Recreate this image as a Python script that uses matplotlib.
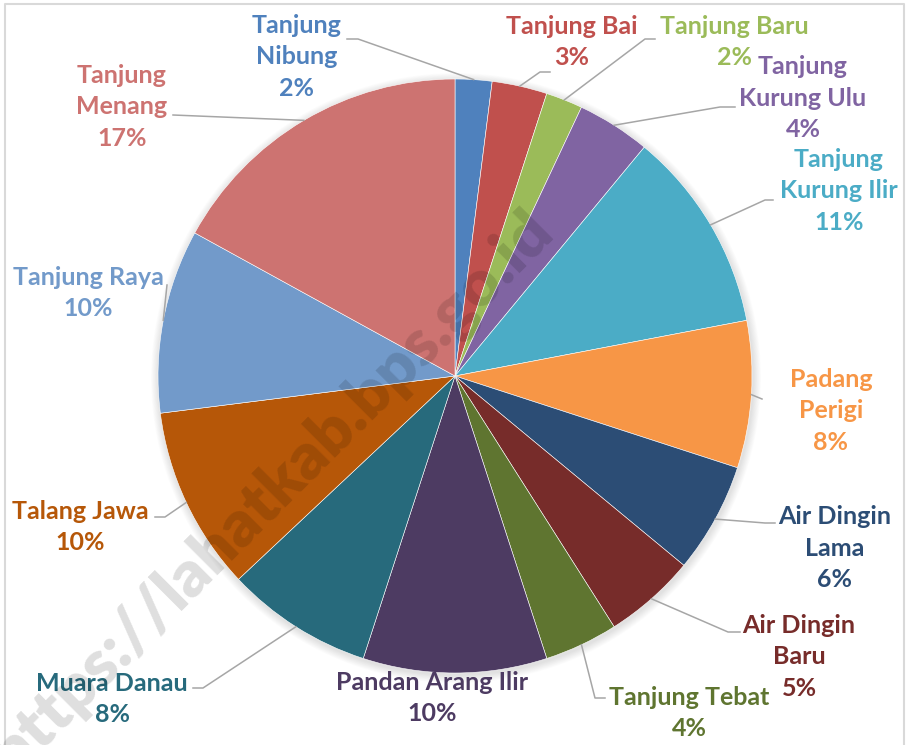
import numpy as np
import matplotlib
matplotlib.use("Agg")
import matplotlib.pyplot as plt
from matplotlib.patches import Circle

plt.rcParams['font.family'] = ['Lato', 'DejaVu Sans']

# data
names = ['Tanjung\nNibung', 'Tanjung Bai', 'Tanjung Baru', 'Tanjung\nKurung Ulu',
         'Tanjung\nKurung Ilir', 'Padang\nPerigi', 'Air Dingin\nLama', 'Air Dingin\nBaru',
         'Tanjung Tebat', 'Pandan Arang Ilir', 'Muara Danau', 'Talang Jawa',
         'Tanjung Raya', 'Tanjung\nMenang']
shares = [2, 3, 2, 4, 11, 8, 6, 5, 4, 10, 8, 10, 10, 17]
colors = ['#4F81BD', '#C0504D', '#9BBB59', '#8064A2', '#4BACC6', '#F79646', '#2C4D75',
          '#772C2A', '#5F7530', '#4D3B62', '#276A7C', '#B65708', '#729ACA', '#CD7371']

# layout (pixel coords, y down)
label_xy = [(297, 57), (572, 42), (734, 42), (803, 98), (839, 191), (831, 411), (835, 548),
            (799, 657), (689, 713), (432, 698), (112, 699), (80, 527), (88, 293), (122, 107)]
leaders = [[(358, 39), (347, 39)], [(540, 72), (550, 72)], [(645, 39), (655, 39)],
           [(720, 107), (735, 107)], [(765, 200), (773, 200)], [(762, 399)],
           [(765, 523), (775, 523)], [(728, 632), (740, 632)], [(595, 698), (605, 698)],
           [], [(203, 688), (193, 688)], [(165, 517), (155, 517)], [(167, 285)], [(173, 115)]]

W, H = 906, 745
cx, cy, r = 455, 376, 297

fig = plt.figure(figsize=(W / 100, H / 100), dpi=100)
ax = fig.add_axes([0, 0, 1, 1])

# soft shadow behind pie
for k in range(10, 0, -1):
    ax.add_patch(Circle((cx + 1, cy + 2), r + k * 0.8, color='black', alpha=0.012, lw=0, zorder=0))

# y axis inverted -> startangle -90 / counterclock draws clockwise from 12 o'clock
wedges, _ = ax.pie(shares, colors=colors, startangle=-90, counterclock=True,
                   center=(cx, cy), radius=r,
                   wedgeprops=dict(edgecolor='white', linewidth=0.4))

for w, pts in zip(wedges, leaders):
    if not pts:
        continue
    a = np.deg2rad((w.theta1 + w.theta2) / 2)
    start = (cx + r * np.cos(a), cy + r * np.sin(a))
    xs = [start[0]] + [p[0] for p in pts]
    ys = [start[1]] + [p[1] for p in pts]
    ax.plot(xs, ys, color='#A6A6A6', lw=1.1, zorder=3)

for name, v, c, (tx, ty) in zip(names, shares, colors, label_xy):
    ax.text(tx, ty, f"{name}\n{v}%", color=c, fontsize=18, fontweight='bold',
            ha='center', va='center', multialignment='center', linespacing=1.46, zorder=4)

# watermark
ax.text(272, 492, "https://lahatkab.bps.go.id", rotation=45, rotation_mode='anchor',
        ha='center', va='center', fontsize=47, fontweight='heavy', color='black',
        alpha=0.13, zorder=5)

# chart border
ax.plot([5, 5, 904, 904], [H + 5, 4, 4, H + 5], color='#D9D9D9', lw=1.5, zorder=1)

ax.set_xlim(0, W)
ax.set_ylim(H, 0)
ax.set_aspect('equal')
ax.axis('off')

fig.savefig('out.png', dpi=100)
